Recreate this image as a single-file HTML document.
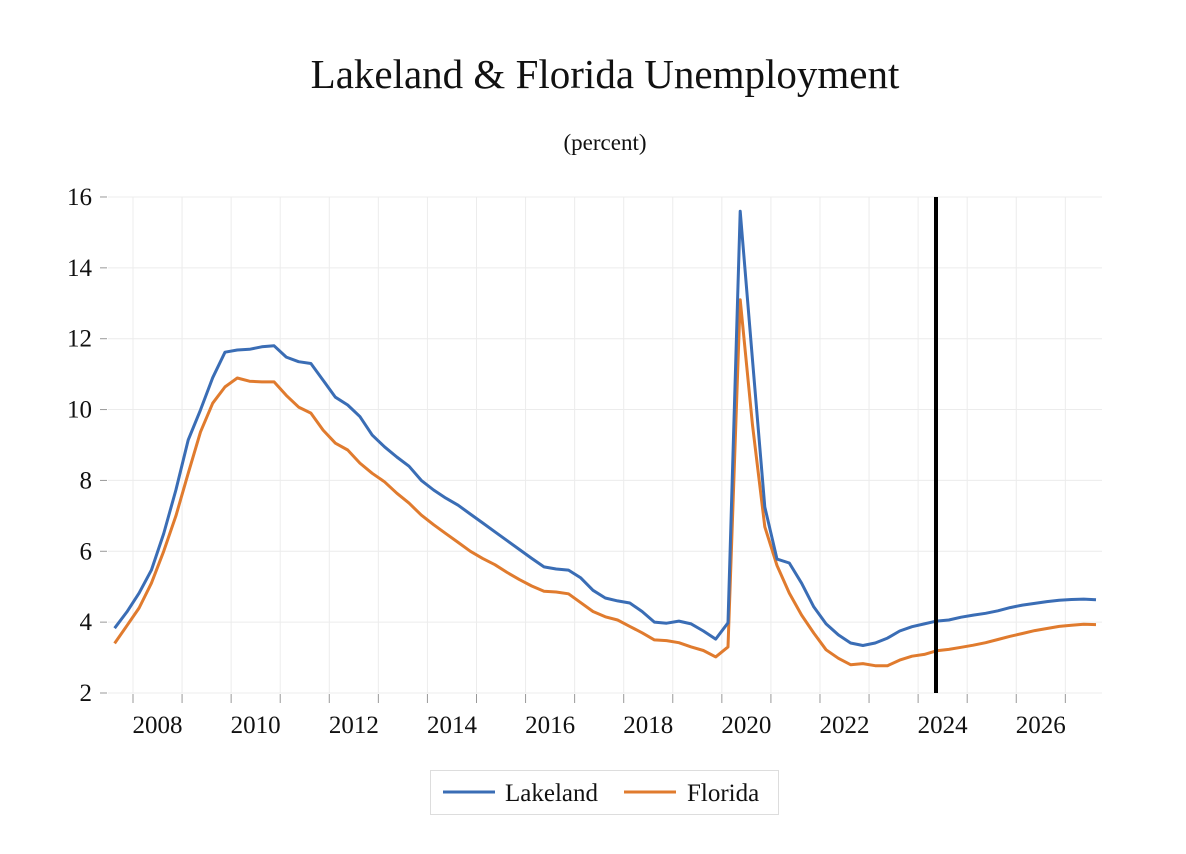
<!DOCTYPE html>
<html><head><meta charset="utf-8"><style>
body{margin:0;background:#fff;}
svg text{font-family:"Liberation Serif",serif;fill:#111;}
</style></head><body>
<svg id="chart" width="1186" height="849" viewBox="0 0 1186 849" xmlns="http://www.w3.org/2000/svg">
<text x="605" y="88" font-size="41" text-anchor="middle">Lakeland &amp; Florida Unemployment</text>
<text x="605" y="150" font-size="23" text-anchor="middle">(percent)</text>
<g id="grid"></g><g id="axes"></g><g id="series"></g>
<line x1="936" y1="197" x2="936" y2="693" stroke="#000" stroke-width="4"/>
<g>
<rect x="430.5" y="770.5" width="348" height="44" fill="#fff" stroke="#ddd"/>
<line x1="443" y1="792" x2="495" y2="792" stroke="#3a6db5" stroke-width="3"/>
<text x="505" y="801" font-size="25">Lakeland</text>
<line x1="624" y1="792" x2="676" y2="792" stroke="#e07b2e" stroke-width="3"/>
<text x="687" y="801" font-size="25">Florida</text>
</g>
</svg>
<script>
const startYear = 2007.625;
const yTicks = [2,4,6,8,10,12,14,16];
const xTickLabels = [2008,2010,2012,2014,2016,2018,2020,2022,2024,2026];
const lakeland = [3.83,4.29,4.82,5.47,6.5,7.73,9.14,9.99,10.9,11.62,11.68,11.7,11.77,11.8,11.48,11.35,11.3,10.83,10.35,10.13,9.8,9.28,8.95,8.66,8.4,8.0,7.73,7.5,7.3,7.05,6.8,6.55,6.3,6.05,5.8,5.56,5.5,5.47,5.25,4.9,4.68,4.6,4.54,4.3,4.0,3.97,4.03,3.95,3.75,3.52,3.98,15.6,11.4,7.25,5.78,5.67,5.1,4.43,3.95,3.64,3.41,3.34,3.41,3.55,3.75,3.87,3.95,4.03,4.06,4.14,4.2,4.25,4.32,4.41,4.48,4.53,4.58,4.62,4.64,4.65,4.63];
const florida = [3.4,3.9,4.4,5.1,6.0,7.0,8.2,9.37,10.18,10.64,10.89,10.8,10.78,10.78,10.4,10.07,9.9,9.42,9.05,8.86,8.49,8.2,7.96,7.64,7.36,7.02,6.75,6.5,6.25,6.0,5.8,5.62,5.4,5.2,5.02,4.87,4.85,4.8,4.55,4.3,4.15,4.06,3.88,3.7,3.5,3.48,3.42,3.3,3.2,3.02,3.3,13.1,9.56,6.69,5.6,4.82,4.2,3.69,3.22,2.98,2.8,2.83,2.77,2.77,2.93,3.04,3.09,3.19,3.23,3.29,3.35,3.42,3.51,3.6,3.68,3.76,3.82,3.88,3.91,3.94,3.93];

const NS='http://www.w3.org/2000/svg';
function X(t){return 133+(t-2008)*49.07;}
function Y(v){return 693-(v-2)*35.43;}
function mk(tag,attrs,parent){const e=document.createElementNS(NS,tag);for(const k in attrs)e.setAttribute(k,attrs[k]);parent.appendChild(e);return e;}
const grid=document.getElementById('grid'),axes=document.getElementById('axes'),series=document.getElementById('series');
yTicks.forEach(v=>{
  const g=mk('line',{x1:108,x2:1102,y1:Y(v),y2:Y(v),stroke:'#ececec','stroke-width':1},grid);
  
  
  const t=mk('line',{x1:100,x2:107,y1:Y(v),y2:Y(v),stroke:'#999','stroke-width':1},axes);
  
  
  const l=mk('text',{x:92,y:Y(v)+8,'font-size':25,'text-anchor':'end'},axes);
  l.textContent=v;
  
  
});
for(let yr=2008;yr<=2027;yr++){
  const g=mk('line',{x1:X(yr),x2:X(yr),y1:197,y2:693,stroke:'#ececec','stroke-width':1},grid);
  
  
  const t=mk('line',{x1:X(yr),x2:X(yr),y1:694,y2:703,stroke:'#999','stroke-width':1},axes);
  
  
}
xTickLabels.forEach(yr=>{
  const l=mk('text',{x:X(yr+0.5),y:733,'font-size':25,'text-anchor':'middle'},axes);
  l.textContent=yr;
  
  
});
function draw(arr,color,name){
  const d=arr.map((v,i)=>(i?'L':'M')+X(startYear+i*0.25).toFixed(1)+','+Y(v).toFixed(1)).join('');
  const p=mk('path',{d:d,fill:'none',stroke:color,'stroke-width':3,'stroke-linejoin':'round'},series);
  
  
}
draw(florida,'#e07b2e','florida-line');
draw(lakeland,'#3a6db5','lakeland-line');
</script>
</body></html>
